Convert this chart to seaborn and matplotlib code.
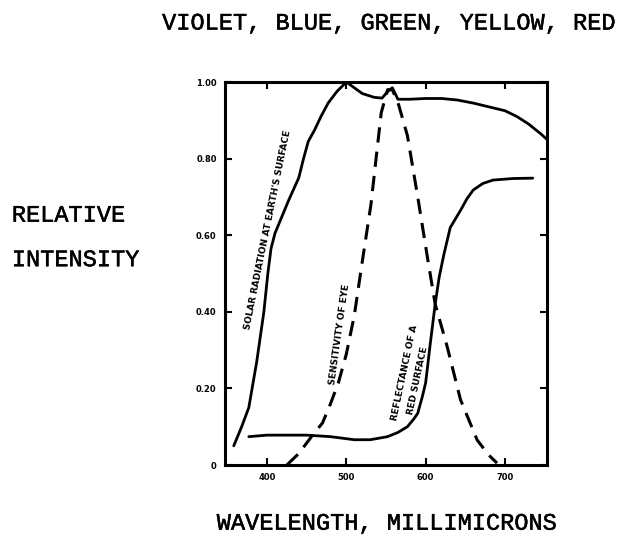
"""
Relative intensity vs wavelength: solar radiation, eye sensitivity, red surface reflectance
"""
import numpy as np
import pandas as pd
import matplotlib
matplotlib.use("Agg")
import matplotlib.pyplot as plt
import matplotlib.patheffects as pe
import seaborn as sns

# Solar radiation at earth's surface (solid)
solar_wl = [358, 368, 377, 387, 396, 401, 405, 410, 418, 427, 440, 446, 452, 460, 468, 477, 488,
            500, 510, 520, 535, 545, 552, 558, 565, 580, 600, 620, 640, 660, 680, 700, 715, 730, 745, 753]
solar_val = [0.05, 0.10, 0.15, 0.27, 0.40, 0.50, 0.565, 0.605, 0.645, 0.69, 0.75, 0.80, 0.845, 0.875, 0.91,
             0.945, 0.975, 1.0, 0.985, 0.97, 0.96, 0.958, 0.975, 0.985, 0.955, 0.955, 0.957, 0.957,
             0.953, 0.945, 0.935, 0.925, 0.91, 0.89, 0.865, 0.85]

# Sensitivity of eye (dashed)
eye_wl = [425, 440, 456, 470, 480, 490, 500, 510, 520, 531, 538, 544, 552, 558, 566, 577, 590,
          602, 612, 627, 644, 665, 680, 690]
eye_val = [0.0, 0.03, 0.074, 0.11, 0.16, 0.215, 0.29, 0.39, 0.53, 0.68, 0.81, 0.92, 0.98, 0.98,
           0.94, 0.86, 0.70, 0.545, 0.42, 0.31, 0.17, 0.065, 0.025, 0.005]

# Reflectance of a red surface (solid)
red_wl = [377, 400, 450, 480, 510, 530, 552, 565, 577, 585, 590, 596, 600, 606, 612, 617, 623,
          631, 644, 652, 660, 672, 685, 710, 735]
red_val = [0.074, 0.078, 0.078, 0.074, 0.066, 0.066, 0.074, 0.085, 0.10, 0.12, 0.135, 0.18, 0.215,
           0.32, 0.42, 0.49, 0.55, 0.62, 0.665, 0.695, 0.718, 0.735, 0.744, 0.748, 0.749]

x_ticks = [400, 500, 600, 700]
y_ticks = [0, 0.2, 0.4, 0.6, 0.8, 1.0]
y_tick_labels = ["0", "0.20", "0.40", "0.60", "0.80", "1.00"]

sns.set_style("ticks")
plt.rcParams['font.family'] = ['DejaVu Sans']
mono = ['Liberation Mono', 'DejaVu Sans Mono']

fig = plt.figure(figsize=(6.24, 5.49), dpi=100)
ax = fig.add_axes([0.3606, 0.153, 0.516, 0.6976])

solar = pd.DataFrame({'wl': solar_wl, 'val': solar_val})
eye = pd.DataFrame({'wl': eye_wl, 'val': eye_val})
red = pd.DataFrame({'wl': red_wl, 'val': red_val})

sns.lineplot(data=solar, x='wl', y='val', ax=ax, color='black', lw=2.0, sort=False)
sns.lineplot(data=red, x='wl', y='val', ax=ax, color='black', lw=2.0, sort=False)
ax.plot(eye['wl'], eye['val'], color='black', lw=2.2, linestyle=(0, (5, 3)))

ax.set_xlim(347, 753)
ax.set_ylim(0, 1.0)
ax.set_xticks(x_ticks)
ax.set_xticklabels([str(t) for t in x_ticks], fontsize=6, fontweight='bold', color='black')
ax.set_yticks(y_ticks)
ax.set_yticklabels(y_tick_labels, fontsize=6, fontweight='bold', color='black')
ax.tick_params(direction='in', top=True, right=True, length=5, width=1.5, pad=6, color='black')
ax.set_xlabel('')
ax.set_ylabel('')
for s in ax.spines.values():
    s.set_linewidth(2.2)
    s.set_color('black')
    s.set_visible(True)

# curve labels
lbl = dict(fontsize=6.5, fontweight='bold', ha='center', va='center',
           rotation_mode='anchor', color='black')
ax.text(401, 0.614, "SOLAR RADIATION AT EARTH'S SURFACE", rotation=78.5, **lbl)
ax.text(492, 0.34, "SENSITIVITY OF EYE", rotation=82, **lbl)
ax.text(574, 0.24, "REFLECTANCE OF A", rotation=78, **lbl)
ax.text(590, 0.22, "RED SURFACE", rotation=78, **lbl)

# outer texts, typewriter look
outer = dict(family=mono, fontsize=17, color='black', va='center',
             path_effects=[pe.withStroke(linewidth=0.35, foreground='black')])
fig.text(0.622, 0.958, "VIOLET, BLUE, GREEN, YELLOW, RED", ha='center', **outer)
fig.text(0.019, 0.608, "RELATIVE", ha='left', **outer)
fig.text(0.019, 0.527, "INTENSITY", ha='left', **outer)
fig.text(0.619, 0.047, "WAVELENGTH, MILLIMICRONS", ha='center', **outer)

plt.savefig('out.png', dpi=100)
